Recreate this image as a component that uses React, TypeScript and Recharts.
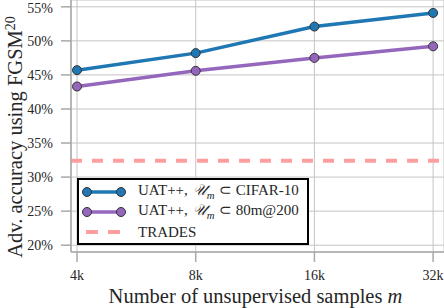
import React from 'react';
import {
  LineChart,
  Line,
  XAxis,
  YAxis,
  CartesianGrid,
  ReferenceLine,
  Legend,
} from 'recharts';

const SAMPLE_SIZES = [4000, 8000, 16000, 32000];
const CIFAR_ACC = [45.7, 48.2, 52.1, 54.1];
const TINY_ACC = [43.3, 45.6, 47.5, 49.2];
const TRADES_ACC = 32.4;
const Y_TICKS = [20, 25, 30, 35, 40, 45, 50, 55];

const BLUE = '#1f77b4';
const PURPLE = '#9467bd';
const PINK = '#ff9e9e';
const SPINE = '#a8a8a8';
const GRID = '#c4c4c4';
const TEXT = '#262626';
const FONT = 'Liberation Serif';

const data = SAMPLE_SIZES.map((m, i) => ({
  m,
  cifar: CIFAR_ACC[i],
  tiny: TINY_ACC[i],
}));

const fmtK = (v: number) => `${Math.round(v / 1000)}k`;

function SubsetLabel({ set }: { set: string }) {
  return (
    <span>
      UAT++,<span style={{ marginLeft: 5, fontStyle: 'italic' }}>𝒰</span>
      <sub style={{ fontStyle: 'italic', fontSize: '0.72em' }}>m</sub>
      <span style={{ margin: '0 4px' }}>⊂</span>
      {set}
    </span>
  );
}

function LegendBox() {
  const row = { display: 'flex', alignItems: 'center', height: 20 } as const;
  const marker = (color: string) => (
    <svg width={46} height={14}>
      <line x1={6} x2={40} y1={7} y2={7} stroke={color} strokeWidth={3.5} />
      <circle cx={6} cy={7} r={4.5} fill={color} stroke="#333" strokeWidth={1} />
      <circle cx={40} cy={7} r={4.5} fill={color} stroke="#333" strokeWidth={1} />
    </svg>
  );
  return (
    <div
      style={{
        border: '2px solid #000',
        background: '#fff',
        width: 226,
        height: 63,
        boxSizing: 'content-box',
        fontFamily: FONT,
        fontSize: 15,
        color: TEXT,
        padding: '0 0 0 2px',
        lineHeight: 1,
        whiteSpace: 'nowrap',
      }}
    >
      <div style={{ ...row, marginTop: 2 }}>
        {marker(BLUE)}
        <span style={{ marginLeft: 11 }}>
          <SubsetLabel set="CIFAR-10" />
        </span>
      </div>
      <div style={row}>
        {marker(PURPLE)}
        <span style={{ marginLeft: 11 }}>
          <SubsetLabel set="80m@200" />
        </span>
      </div>
      <div style={row}>
        <svg width={46} height={14}>
          <line x1={5} x2={40} y1={7} y2={7} stroke={PINK} strokeWidth={4} strokeDasharray="12 10" />
        </svg>
        <span style={{ marginLeft: 11 }}>TRADES</span>
      </div>
    </div>
  );
}

const tickStyle = { fill: TEXT, fontSize: 14, fontFamily: FONT };

export default function App() {
  return (
    <div
      style={{
        position: 'absolute',
        left: 0,
        top: 0,
        width: 444,
        height: 308,
        overflow: 'hidden',
        background: '#fff',
        fontFamily: FONT,
      }}
    >
      <LineChart
        width={444}
        height={308}
        data={data}
        margin={{ top: 0, right: 0, bottom: 0, left: 0 }}
        style={{ fontFamily: FONT }}
      >
        <CartesianGrid stroke={GRID} strokeWidth={1} />
        <XAxis
          dataKey="m"
          type="number"
          scale="log"
          domain={[3862, 34100]}
          allowDataOverflow
          ticks={SAMPLE_SIZES}
          tickFormatter={fmtK}
          height={56}
          tickSize={10}
          tickMargin={8}
          axisLine={{ stroke: SPINE, strokeWidth: 1.5 }}
          tickLine={{ stroke: SPINE, strokeWidth: 1.5 }}
          tick={tickStyle}
          label={{
            content: ({ viewBox }: any) => (
              <text
                x={viewBox.x + viewBox.width / 2 - 2}
                y={viewBox.y + 51}
                textAnchor="middle"
                fontSize={20.5}
                fill={TEXT}
                style={{ fontFamily: FONT }}
              >
                Number of unsupervised samples <tspan fontStyle="italic">m</tspan>
              </text>
            ),
          }}
        />
        <YAxis
          type="number"
          domain={[19, 56]}
          ticks={Y_TICKS}
          tickFormatter={(v: number) => `${v}%`}
          width={71}
          tickSize={10}
          tickMargin={8}
          axisLine={{ stroke: SPINE, strokeWidth: 1.5 }}
          tickLine={{ stroke: SPINE, strokeWidth: 1.5 }}
          tick={tickStyle}
          label={{
            content: ({ viewBox }: any) => {
              const cx = 22;
              const cy = viewBox.y + viewBox.height / 2 + 11;
              return (
                <text
                  x={cx}
                  y={cy}
                  transform={`rotate(-90 ${cx} ${cy})`}
                  textAnchor="middle"
                  fontSize={20.5}
                  fill={TEXT}
                  style={{ fontFamily: FONT }}
                >
                  Adv. accuracy using FGSM
                  <tspan fontSize={14} dy={-7}>20</tspan>
                </text>
              );
            },
          }}
        />
        <ReferenceLine
          y={TRADES_ACC}
          stroke={PINK}
          strokeWidth={4}
          strokeDasharray="11 10"
        />
        <Line
          type="linear"
          dataKey="cifar"
          stroke={BLUE}
          strokeWidth={3.5}
          dot={{ r: 4.5, fill: BLUE, stroke: '#333', strokeWidth: 1 }}
          isAnimationActive={false}
        />
        <Line
          type="linear"
          dataKey="tiny"
          stroke={PURPLE}
          strokeWidth={3.5}
          dot={{ r: 4.5, fill: PURPLE, stroke: '#333', strokeWidth: 1 }}
          isAnimationActive={false}
        />
        <Legend
          layout="vertical"
          align="center"
          verticalAlign="middle"
          content={() => <LegendBox />}
          wrapperStyle={{ left: 77, top: 178, width: 'auto' }}
        />
      </LineChart>
    </div>
  );
}
